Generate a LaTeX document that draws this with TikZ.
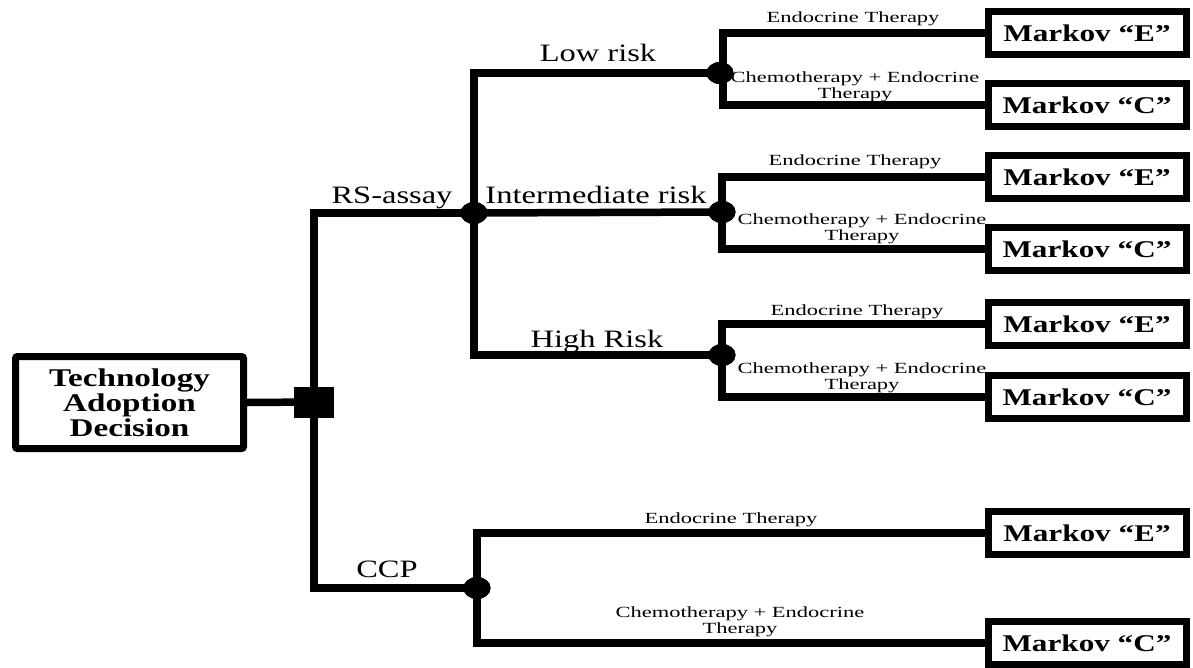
\documentclass[tikz,border=0pt]{standalone}
\usepackage{fontspec}
\setmainfont{Liberation Serif}[FakeStretch=1.3]
\newfontfamily\subfont{Liberation Serif}[FakeStretch=1.45]
\usetikzlibrary{shapes.geometric}
\begin{document}
\begin{tikzpicture}[x=1pt,y=-1pt,
  line join=miter,
  branch/.style={line width=7.5pt},
  rootbox/.style={draw,line width=7pt,rounded corners=2pt,minimum width=228pt,minimum height=92pt,inner sep=0pt,align=center,
    font=\fontsize{25.5}{25}\selectfont\bfseries},
  markovbox/.style={draw,line width=7pt,minimum width=198pt,minimum height=43pt,inner sep=0pt,
    font=\fontsize{24}{24}\selectfont\bfseries},
  decnode/.style={fill=black,minimum width=40pt,minimum height=31pt,inner sep=0pt},
  chnode/.style={ellipse,fill=black,minimum width=27pt,minimum height=22pt,inner sep=0pt},
  mainlab/.style={anchor=base,inner sep=0pt,font=\fontsize{25}{25}\selectfont},
  sublab/.style={anchor=base,inner sep=0pt,align=center,font=\subfont\fontsize{15.5}{16}\selectfont},
]
\useasboundingbox (0,0) rectangle (1193,667);

% nodes
\node[rootbox] (root) at (129.5,402.5) {Technology\\Adoption\\Decision};
\node[decnode] (dec) at (314,402) {};
\node[chnode] (rs) at (474,213) {};
\node[chnode] (ccp) at (477,588) {};
\node[chnode] (low) at (720,73) {};
\node[chnode] (int) at (722,212) {};
\node[chnode] (high) at (722,355) {};

\node[markovbox] (lowE) at (1087,33) {Markov ``E''};
\node[markovbox] (lowC) at (1087,105) {Markov ``C''};
\node[markovbox] (intE) at (1087,177) {Markov ``E''};
\node[markovbox] (intC) at (1087,249) {Markov ``C''};
\node[markovbox] (highE) at (1087,324) {Markov ``E''};
\node[markovbox] (highC) at (1087,397) {Markov ``C''};
\node[markovbox] (ccpE) at (1087,533) {Markov ``E''};
\node[markovbox] (ccpC) at (1087,643) {Markov ``C''};

% connectors
\draw[branch] (root.east) -- (dec.center);
\draw[branch] (rs.center) -| (dec.center) |- (ccp.center);
\draw[branch] (low.center) -| (rs.center) |- (high.center);
\draw[branch] (rs.center) -- (int.center);
\draw[branch] (lowE.west) -| ([xshift=3pt]low.center) |- (lowC.west);
\draw[branch] (intE.west) -| (int.center) |- (intC.west);
\draw[branch] (highE.west) -| (high.center) |- (highC.west);
\draw[branch] (ccpE.west) -| (ccp.center) |- (ccpC.west);

% redraw chance/decision nodes on top
\node[decnode] at (dec) {};
\node[chnode] at (rs) {};
\node[chnode] at (ccp) {};
\node[chnode] at (low) {};
\node[chnode] at (int) {};
\node[chnode] at (high) {};

% labels
\node[mainlab] (lRS) at (392,203) {RS-assay};
\node[mainlab] (lCCP) at (387,577) {CCP};
\node[mainlab] (lLow) at (598,61) {Low risk};
\node[mainlab] (lInt) at (596,203) {Intermediate risk};
\node[mainlab] (lHigh) at (597,347) {High Risk};

\node[sublab] (s1) at (853,22) {Endocrine Therapy};
\node[sublab] (s2) at (855,98) {Chemotherapy + Endocrine\\Therapy};
\node[sublab] (s3) at (855,165) {Endocrine Therapy};
\node[sublab] (s4) at (862,240) {Chemotherapy + Endocrine\\Therapy};
\node[sublab] (s5) at (857,315) {Endocrine Therapy};
\node[sublab] (s6) at (862,389) {Chemotherapy + Endocrine\\Therapy};
\node[sublab] (s7) at (731,523) {Endocrine Therapy};
\node[sublab] (s8) at (740,633) {Chemotherapy + Endocrine\\Therapy};
\end{tikzpicture}
\end{document}
